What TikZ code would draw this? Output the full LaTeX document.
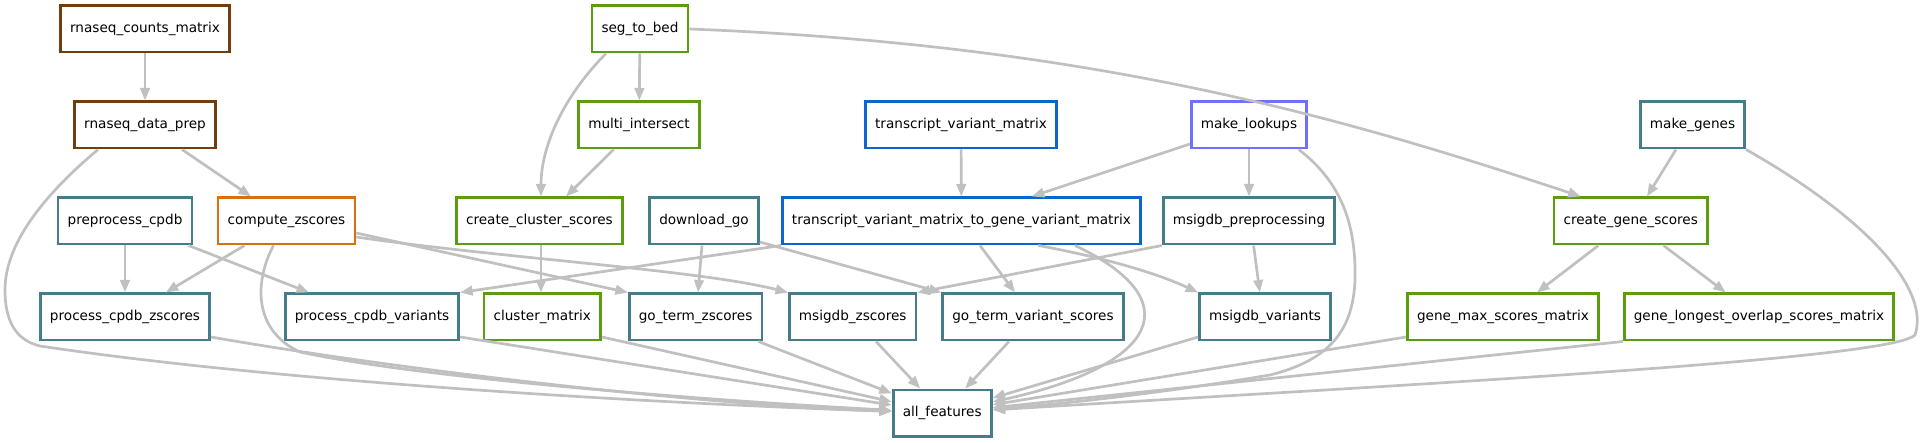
\documentclass[tikz,border=0pt]{standalone}
\usepackage{fontspec}
\setmainfont{DejaVu Sans}
\usetikzlibrary{arrows.meta}
\definecolor{cbrown}{RGB}{112,62,14}
\definecolor{cteal}{RGB}{69,124,138}
\definecolor{corange}{RGB}{217,112,15}
\definecolor{cgreen}{RGB}{90,158,16}
\definecolor{cblue}{RGB}{10,102,204}
\definecolor{clav}{RGB}{112,112,255}
\definecolor{cedge}{RGB}{192,192,192}
\tikzset{
  job/.style={draw=#1, line width=2.7pt, minimum height=46.3pt, inner xsep=9.6pt,
    inner ysep=0pt, font=\fontsize{13.6}{16}\selectfont, text=black},
  dep/.style={draw=cedge, line width=2.7pt, -{Triangle[length=12.5pt,width=9.5pt]}},
}
\begin{document}
\begin{tikzpicture}[x=1pt,y=-1pt]
\useasboundingbox (0,0) rectangle (1929,443);
% nodes
\node[job=cbrown] (rcm) at (145,29) {rnaseq\_counts\_matrix};
\node[job=cgreen] (stb) at (640,29) {seg\_to\_bed};
\node[job=cbrown] (rdp) at (145,125) {rnaseq\_data\_prep};
\node[job=cgreen] (mi) at (639,125) {multi\_intersect};
\node[job=cblue] (tvm) at (961,125) {transcript\_variant\_matrix};
\node[job=clav] (ml) at (1249,125) {make\_lookups};
\node[job=cteal] (mg) at (1692.5,125) {make\_genes};
\node[job=cteal] (pc) at (125,221) {preprocess\_cpdb};
\node[job=corange] (cz) at (286.5,221) {compute\_zscores};
\node[job=cgreen] (ccs) at (539.4,221) {create\_cluster\_scores};
\node[job=cteal] (dg) at (704,221) {download\_go};
\node[job=cblue] (tg) at (961.4,221) {transcript\_variant\_matrix\_to\_gene\_variant\_matrix};
\node[job=cteal] (msp) at (1249,221) {msigdb\_preprocessing};
\node[job=cgreen] (cgs) at (1630.7,221) {create\_gene\_scores};
\node[job=cteal] (pcz) at (125,317) {process\_cpdb\_zscores};
\node[job=cteal] (pcv) at (372,317) {process\_cpdb\_variants};
\node[job=cgreen] (cm) at (542.3,317) {cluster\_matrix};
\node[job=cteal] (gtz) at (695.6,317) {go\_term\_zscores};
\node[job=cteal] (mz) at (852.7,317) {msigdb\_zscores};
\node[job=cteal] (gtv) at (1033,317) {go\_term\_variant\_scores};
\node[job=cteal] (mv) at (1265,317) {msigdb\_variants};
\node[job=cgreen] (gms) at (1503,317) {gene\_max\_scores\_matrix};
\node[job=cgreen] (glo) at (1759,317) {gene\_longest\_overlap\_scores\_matrix};
\node[job=cteal] (af) at (942.2,413) {all\_features};
% edges
\draw[dep] (rcm) -- (rdp);
\draw[dep] ([xshift=37pt]rdp.south) -- ([xshift=-35.5pt]cz.north);
\draw[dep] ([xshift=-47pt]rdp.south) .. controls (50,190) and (5,240) .. (5,290)
  .. controls (5,320) and (15,340) .. (40,346) .. controls (300,385) and (700,405) .. (af);
\draw[dep] (stb) -- (mi);
\draw[dep] ([xshift=-34pt]stb.south) .. controls (560,100) and (541,150) .. ([xshift=1.6pt]ccs.north);
\draw[dep] (stb.east) .. controls (1100,45) and (1350,120) .. ([xshift=-50pt]cgs.north);
\draw[dep] ([xshift=-25.4pt]mi.south) -- ([xshift=26.6pt]ccs.north);
\draw[dep] (tvm) -- (tg);
\draw[dep] ([yshift=-19pt]ml.west) -- ([xshift=70.4pt]tg.north);
\draw[dep] (ml) -- (msp);
\draw[dep] ([xshift=49.7pt]ml.south) .. controls (1345,185) and (1356,230) .. (1355,280)
  .. controls (1353,330) and (1330,360) .. (1270,375) .. controls (1150,395) and (1050,405) .. (af);
\draw[dep] ([xshift=-16.5pt]mg.south) -- ([xshift=16.3pt]cgs.north);
\draw[dep] (mg.south east) .. controls (1870,220) and (1930,290) .. (1915,335)
  .. controls (1890,360) and (1400,385) .. (af);
\draw[dep] (pc) -- (pcz);
\draw[dep] ([xshift=63.6pt]pc.south) -- ([xshift=-63pt]pcv.north);
\draw[dep] ([xshift=-42pt]cz.south) -- ([xshift=40.8pt]pcz.north);
\draw[dep] ([xshift=-13pt]cz.south) .. controls (255,280) and (252,330) .. (300,352)
  .. controls (420,378) and (700,400) .. (af);
\draw[dep] ([yshift=-12pt]cz.east) -- (gtz.north west);
\draw[dep] ([yshift=-16pt]cz.east) .. controls (500,258) and (700,270) .. (mz.north west);
\draw[dep] ([xshift=1.6pt]ccs.south) -- ([xshift=-1.3pt]cm.north);
\draw[dep] ([xshift=-2pt]dg.south) -- ([xshift=2.4pt]gtz.north);
\draw[dep] ([yshift=-21pt]dg.east) -- (gtv.north west);
\draw[dep] (tg.south west) -- (pcv.north east);
\draw[dep] ([xshift=18.6pt]tg.south) -- ([xshift=-18pt]gtv.north);
\draw[dep] ([xshift=77pt]tg.south) .. controls (1090,255) and (1150,270) .. (mv.north west);
\draw[dep] ([xshift=113.6pt]tg.south) .. controls (1190,300) and (1160,365) .. (af);
\draw[dep] (msp.south west) -- (mz.north east);
\draw[dep] ([xshift=4.6pt]msp.south) -- ([xshift=-5.2pt]mv.north);
\draw[dep] ([xshift=-32.3pt]cgs.south) -- ([xshift=34pt]gms.north);
\draw[dep] ([xshift=32.8pt]cgs.south) -- ([xshift=-33.3pt]glo.north);
\draw[dep] ([yshift=-20pt]pcz.east) .. controls (400,370) and (700,405) .. (af);
\draw[dep] ([yshift=-20pt]pcv.east) -- (af);
\draw[dep] ([yshift=-20pt]cm.east) -- (af);
\draw[dep] ([xshift=-5pt]gtz.south east) -- (af);
\draw[dep] ([xshift=23.3pt]mz.south) -- ([xshift=-22pt]af.north);
\draw[dep] ([xshift=-24pt]gtv.south) -- ([xshift=23pt]af.north);
\draw[dep] ([yshift=-20pt]mv.west) -- (af);
\draw[dep] ([yshift=-20pt]gms.west) -- (af);
\draw[dep] (glo.south west) -- (af);
\end{tikzpicture}
\end{document}
